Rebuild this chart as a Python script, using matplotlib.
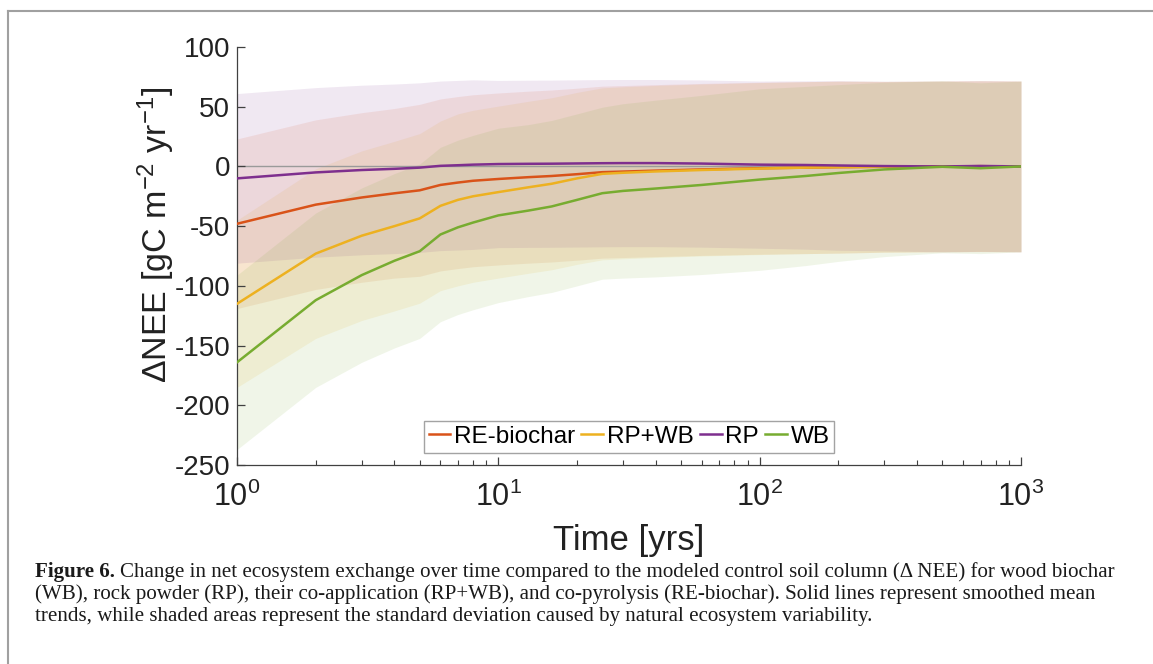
import numpy as np
import matplotlib.pyplot as plt
from matplotlib.lines import Line2D
from matplotlib.ticker import FixedLocator, FixedFormatter

plt.rcParams['font.family'] = ['Liberation Sans', 'DejaVu Sans']
plt.rcParams['axes.unicode_minus'] = False
plt.rcParams['mathtext.fontset'] = 'custom'
plt.rcParams['mathtext.rm'] = 'Liberation Sans'
plt.rcParams['mathtext.it'] = 'Liberation Sans:italic'
plt.rcParams['mathtext.bf'] = 'Liberation Sans:bold'

# time points [yrs]
t = [1, 2, 3, 4, 5, 6, 7, 8, 10, 13, 16, 20, 25, 30, 40, 60, 100, 150, 200, 300, 500, 700, 1000]

# smoothed mean dNEE per treatment
re_biochar = [-48, -32, -26, -22.5, -20, -15.5, -13.5, -12, -10.5, -9, -8, -6.5, -4.8, -4.3, -3.5, -2.5, -1.5, -1, -0.6, -0.3, 0, 0.2, 0]
rp_wb = [-115, -73, -58, -50, -43.5, -33, -28, -25, -21.5, -17.5, -14.5, -10, -6.2, -5.3, -4.2, -3, -1.8, -1, -0.6, -0.3, 0, 0.2, 0]
rp = [-10, -5, -3, -2, -1, 0.5, 1, 1.5, 2, 2.2, 2.3, 2.5, 2.7, 2.8, 2.8, 2.4, 1.5, 1.2, 0.8, 0.3, 0, 0.4, 0]
wb = [-164, -112, -91, -79, -71, -57, -51, -47, -41, -37, -33.5, -28, -22.4, -20.5, -18.5, -15.5, -11, -8, -5.5, -2.5, -0.3, -1.5, 0]

# standard deviation (natural ecosystem variability)
std_re = [71, 71, 71, 71, 72, 72, 72, 72, 72, 72, 72, 72, 72, 72, 72, 72, 72, 72, 72, 71.5, 71.5, 71.5, 71.5]
std_rpwb = [70, 71, 71, 71, 71, 71, 72, 72, 72, 72, 72, 72, 72, 72, 72, 72, 72, 72, 72, 71.5, 71.5, 71.5, 71.5]
std_rp = [71, 71, 71, 71, 71, 71, 71, 71, 70, 70, 70, 70, 70, 70, 70, 70, 70, 70.5, 71, 71, 71.5, 71.5, 71.5]
std_wb = [73, 73, 73, 73, 73, 73, 73, 73, 73, 72, 72, 72, 72, 73, 74, 75, 76, 75, 74, 73, 72, 71.5, 71.5]

labels = ['RE-biochar', 'RP+WB', 'RP', 'WB']
colors = ['#D95319', '#EDB120', '#7E2F8E', '#77AC30']
xticks = [1, 10, 100, 1000]
xticklabels = [r'$\mathregular{10^{0}}$', r'$\mathregular{10^{1}}$', r'$\mathregular{10^{2}}$', r'$\mathregular{10^{3}}$']

fig = plt.figure(figsize=(11.53, 6.64), dpi=100)
ax = fig.add_axes([0.2056, 0.2997, 0.6799, 0.6295])

series = [(re_biochar, std_re), (rp_wb, std_rpwb), (rp, std_rp), (wb, std_wb)]
for (m, s), c in zip(series, colors):
    m = np.array(m)
    s = np.array(s)
    ax.fill_between(t, m - s, m + s, color=c, alpha=0.11, linewidth=0)

ax.axhline(0, color='#9a9a9a', lw=1.0, zorder=1)

for (m, s), c, lab in zip(series, colors, labels):
    ax.plot(t, m, color=c, lw=1.8, label=lab, zorder=3)

ax.set_xscale('log')
ax.set_xlim(1, 1000)
ax.set_ylim(-250, 100)
ax.set_yticks(np.arange(-250, 101, 50))
ax.xaxis.set_major_locator(FixedLocator(xticks))
ax.xaxis.set_major_formatter(FixedFormatter(xticklabels))

for sp in ['top', 'right']:
    ax.spines[sp].set_visible(False)
for sp in ['left', 'bottom']:
    ax.spines[sp].set_color('#404040')
    ax.spines[sp].set_linewidth(0.9)

ax.tick_params(which='major', direction='in', length=6, width=0.9, color='#404040',
               labelsize=20, labelcolor='#222222', pad=5)
ax.tick_params(axis='x', which='major', labelsize=22, pad=12)
ax.tick_params(which='minor', direction='in', length=3.5, width=0.8, color='#404040')

ax.set_xlabel('Time [yrs]', fontsize=25, color='#222222', labelpad=8)
ax.set_ylabel('\u0394NEE [gC m$\\mathregular{^{-2}}$ yr$\\mathregular{^{-1}}$]', fontsize=24.5, color='#222222')
ax.yaxis.set_label_coords(-0.077, 0.55)

leg = ax.legend(loc='lower center', ncol=4, fontsize=17.5, frameon=True, fancybox=False,
                handlelength=0.9, handletextpad=0.15, columnspacing=0.25,
                borderpad=0.2, borderaxespad=0.5)
leg.get_frame().set_edgecolor('#8c8c8c')
leg.get_frame().set_linewidth(1.0)

# page frame (top and left edges)
fig.add_artist(Line2D([8 / 1153, 1], [1 - 11 / 664, 1 - 11 / 664], color='#a0a0a0', lw=1.5))
fig.add_artist(Line2D([8 / 1153, 8 / 1153], [0, 1 - 11 / 664], color='#a0a0a0', lw=1.5))

caption = [
    'Change in net ecosystem exchange over time compared to the modeled control soil column (\u0394 NEE) for wood biochar',
    '(WB), rock powder (RP), their co-application (RP+WB), and co-pyrolysis (RE-biochar). Solid lines represent smoothed mean',
    'trends, while shaded areas represent the standard deviation caused by natural ecosystem variability.',
]
cap_size = 15.1
x0 = 35 / 1153
bold = fig.text(x0, 1 - 572 / 664, 'Figure 6.', family='Liberation Serif', weight='bold',
                fontsize=cap_size, va='center', ha='left', color='#1a1a1a')
renderer = fig.canvas.get_renderer()
bb = bold.get_window_extent(renderer)
x1 = (bb.x1 + 5) / fig.bbox.width
for i, line in enumerate(caption):
    fig.text(x1 if i == 0 else x0, 1 - (572 + 22.5 * i) / 664, line, family='Liberation Serif',
             fontsize=cap_size, va='center', ha='left', color='#1a1a1a')

fig.savefig('out.png', dpi=100)
